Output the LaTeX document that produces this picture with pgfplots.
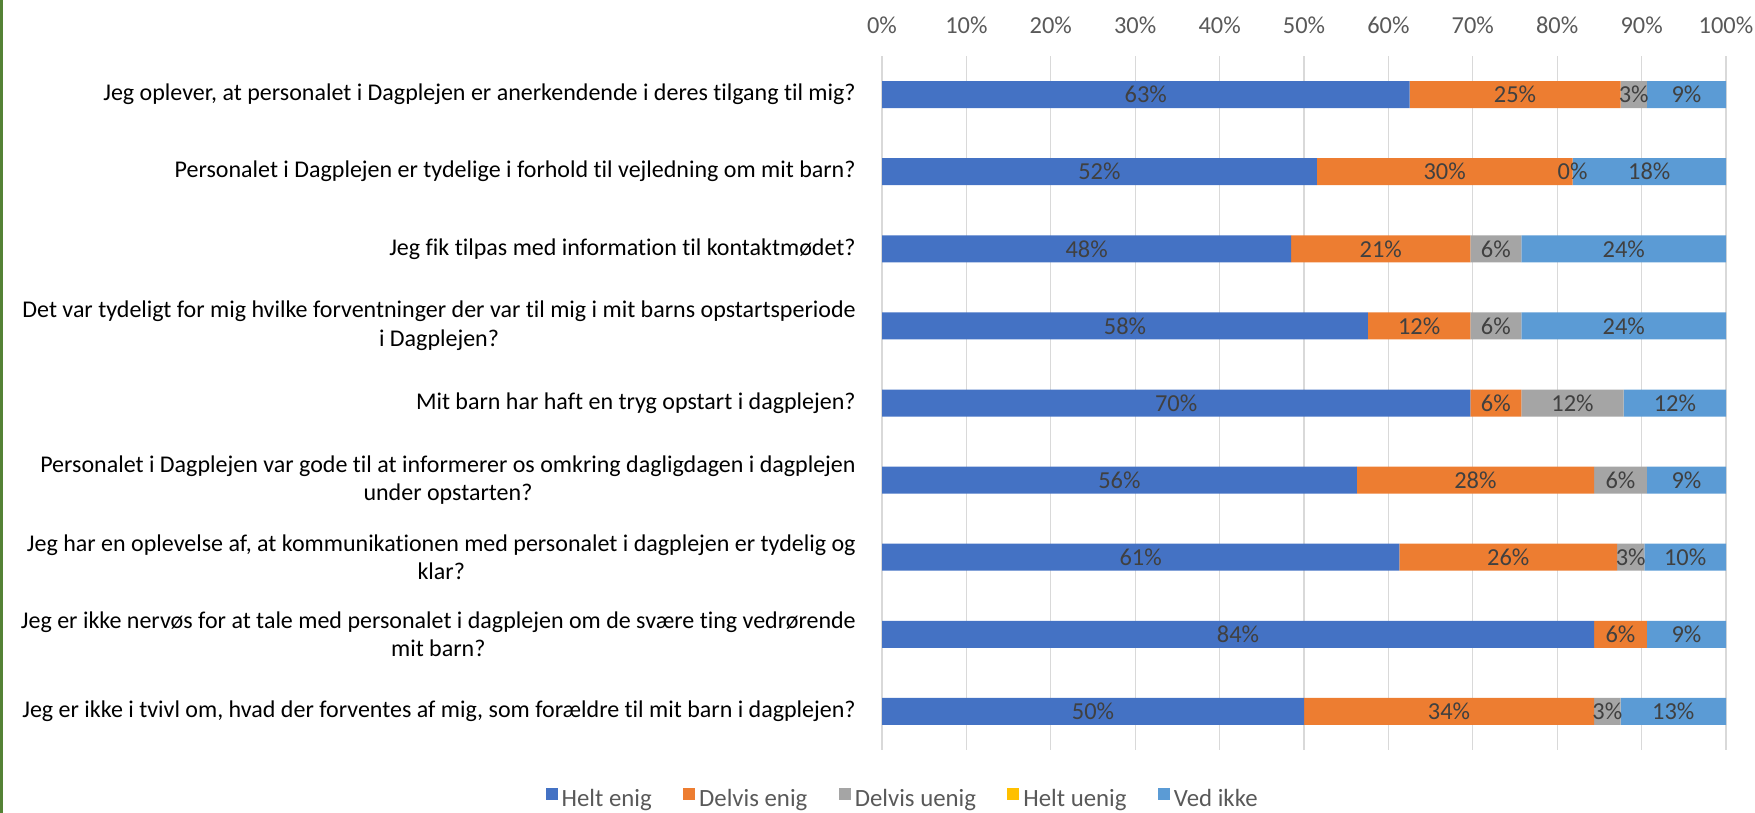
\documentclass[border=0pt]{standalone}
\usepackage{pgfplots}
\pgfplotsset{compat=1.18}
\usepackage{fontspec}
\setmainfont{Carlito}[Ligatures=NoCommon]
\definecolor{cA}{HTML}{4472C4}
\definecolor{cB}{HTML}{ED7D31}
\definecolor{cC}{HTML}{A5A5A5}
\definecolor{cD}{HTML}{FFC000}
\definecolor{cE}{HTML}{5B9BD5}
\definecolor{cGrid}{HTML}{D9D9D9}
\definecolor{cTick}{HTML}{595959}
\definecolor{cLbl}{HTML}{404040}
\definecolor{cGreen}{HTML}{548235}
\newcommand{\cf}{\fontsize{12.2}{14}\selectfont}
\newcommand{\lf}{\fontsize{12.4}{14}\selectfont}
\newcommand{\catf}{\fontsize{12}{14.2}\selectfont}
\begin{document}
\begin{tikzpicture}
\useasboundingbox (0,0) rectangle (877.5pt,406.5pt);
\fill[cGreen] (0,0) rectangle (1.6pt,406.5pt);
\begin{axis}[
  at={(441pt,31.5pt)}, anchor=south west,
  scale only axis, width=422pt, height=347pt,
  xbar stacked, bar width=13.5pt,
  xmin=0, xmax=100, ymin=-0.5, ymax=8.5, y dir=reverse,
  xtick={0,10,...,100},
  xticklabels={0\%,10\%,20\%,30\%,40\%,50\%,60\%,70\%,80\%,90\%,100\%},
  xticklabel pos=upper,
  ytick={0,1,2,3,4,5,6,7,8},
  yticklabels={
    {Jeg oplever, at personalet i Dagplejen er anerkendende i deres tilgang til mig?},
    {Personalet i Dagplejen er tydelige i forhold til vejledning om mit barn?},
    {Jeg fik tilpas med information til kontaktmødet?},
    {Det var tydeligt for mig hvilke forventninger der var til mig i mit barns opstartsperiode\\i Dagplejen?},
    {Mit barn har haft en tryg opstart i dagplejen?},
    {Personalet i Dagplejen var gode til at informerer os omkring dagligdagen i dagplejen\\under opstarten?},
    {Jeg har en oplevelse af, at kommunikationen med personalet i dagplejen er tydelig og\\klar?},
    {Jeg er ikke nervøs for at tale med personalet i dagplejen om de svære ting vedrørende\\mit barn?},
    {Jeg er ikke i tvivl om, hvad der forventes af mig, som forældre til mit barn i dagplejen?}},
  axis line style={draw=none}, major tick length=0pt,
  xmajorgrids, ymajorgrids=false, grid style={color=cGrid, line width=0.65pt},
  xticklabel style={font=\cf, text=cTick, anchor=base, inner sep=0pt, yshift=11.5pt},
  yticklabel style={font=\catf, text=black, align=center, anchor=east, inner sep=0pt, xshift=-13pt},
  legend columns=5,
  legend image code/.code={\fill[#1] (0pt,-0.2pt) rectangle (6pt,5.8pt);},
  legend style={at={(0.0256,-0.0712)}, anchor=center, draw=none, fill=none,
    font=\lf, text=cTick, nodes={inner xsep=2pt, inner ysep=1pt},
    /tikz/every even column/.append style={column sep=13.7pt}},
]
\addplot[fill=cA, draw=none] coordinates {(62.5,0)(51.515,1)(48.485,2)(57.576,3)(69.697,4)(56.25,5)(61.290,6)(84.375,7)(50,8)};
\addplot[fill=cB, draw=none] coordinates {(25,0)(30.303,1)(21.212,2)(12.121,3)(6.061,4)(28.125,5)(25.806,6)(6.25,7)(34.375,8)};
\addplot[fill=cC, draw=none] coordinates {(3.125,0)(0,1)(6.061,2)(6.061,3)(12.121,4)(6.25,5)(3.226,6)(0,7)(3.125,8)};
\addplot[fill=cD, draw=none] coordinates {(0,0)(0,1)(0,2)(0,3)(0,4)(0,5)(0,6)(0,7)(0,8)};
\addplot[fill=cE, draw=none] coordinates {(9.375,0)(18.182,1)(24.242,2)(24.242,3)(12.121,4)(9.375,5)(9.677,6)(9.375,7)(12.5,8)};
\legend{Helt enig,Delvis enig,Delvis uenig,Helt uenig,Ved ikke}
\end{axis}
\begin{axis}[
  at={(441pt,31.5pt)}, anchor=south west,
  scale only axis, width=422pt, height=347pt,
  xmin=0, xmax=100, ymin=-0.5, ymax=8.5, y dir=reverse,
  hide axis, clip=false,
]
\addplot[draw=none, mark=none, nodes near coords, point meta=explicit symbolic,
  nodes near coords align={center},
  every node near coord/.append style={font=\cf, text=cLbl, anchor=center, inner sep=0pt}]
coordinates {
(31.25,0)[63\%] (75,0)[25\%] (89.0625,0)[3\%] (95.3125,0)[9\%]
(25.758,1)[52\%] (66.667,1)[30\%] (81.818,1)[0\%] (90.909,1)[18\%]
(24.242,2)[48\%] (59.091,2)[21\%] (72.727,2)[6\%] (87.879,2)[24\%]
(28.788,3)[58\%] (63.636,3)[12\%] (72.727,3)[6\%] (87.879,3)[24\%]
(34.848,4)[70\%] (72.727,4)[6\%] (81.818,4)[12\%] (93.939,4)[12\%]
(28.125,5)[56\%] (70.3125,5)[28\%] (87.5,5)[6\%] (95.3125,5)[9\%]
(30.645,6)[61\%] (74.194,6)[26\%] (88.710,6)[3\%] (95.161,6)[10\%]
(42.1875,7)[84\%] (87.5,7)[6\%] (95.3125,7)[9\%]
(25,8)[50\%] (67.1875,8)[34\%] (85.9375,8)[3\%] (93.75,8)[13\%]
};
\end{axis}
\end{tikzpicture}
\end{document}
